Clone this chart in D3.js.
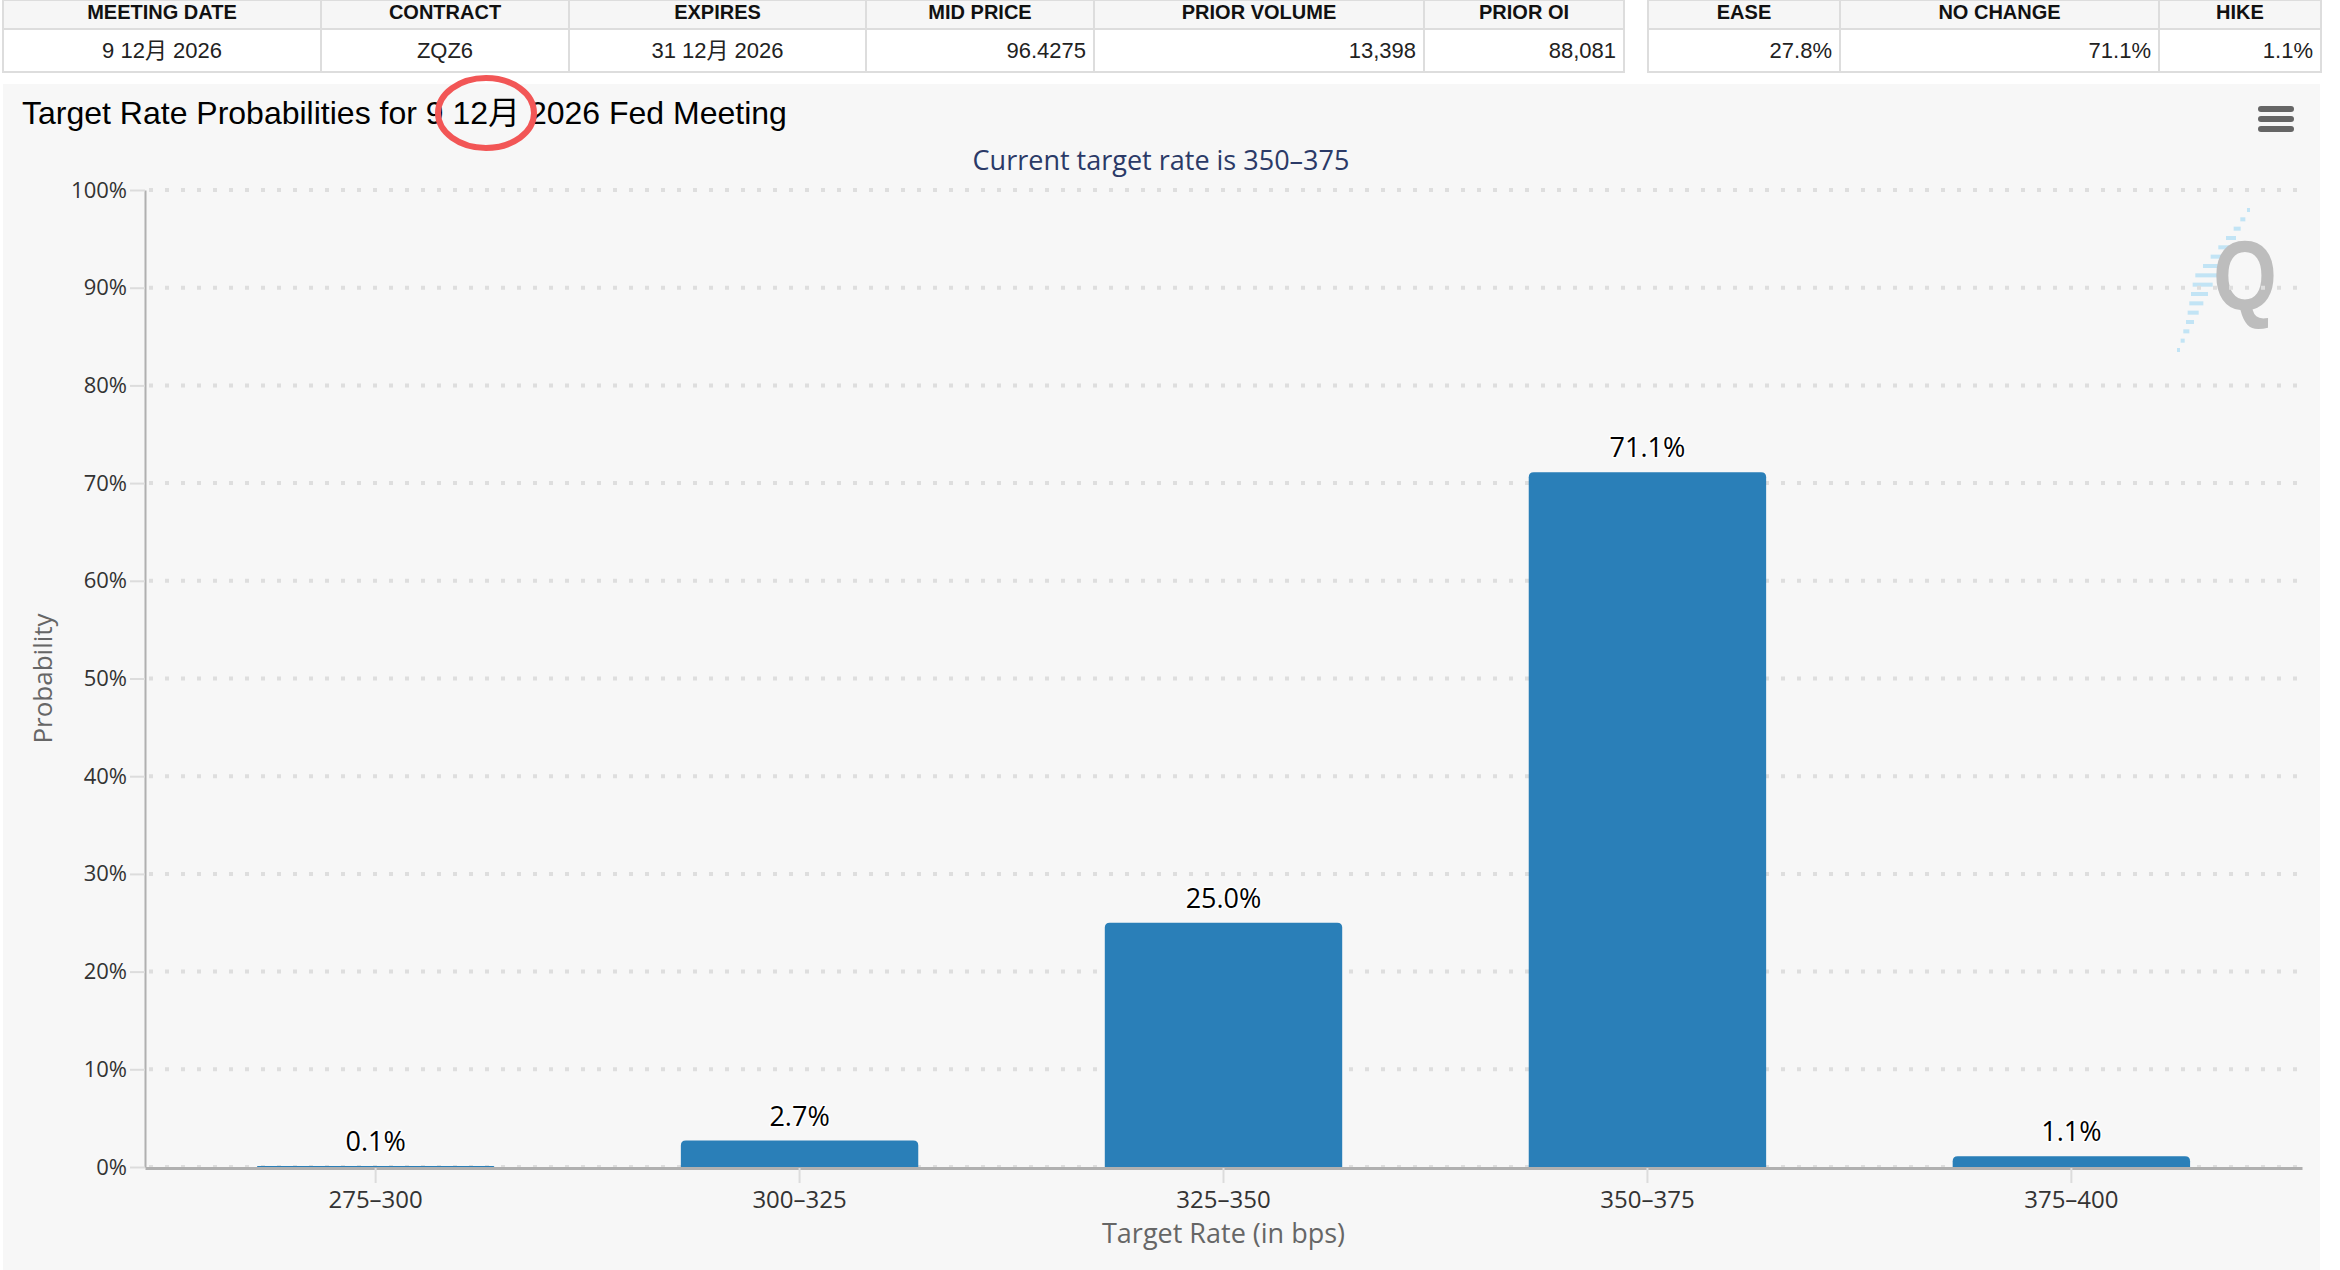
<!DOCTYPE html>
<html>
<head>
<meta charset="utf-8">
<script src="https://cdn.jsdelivr.net/npm/d3@7"></script>
<style>
  html, body { margin: 0; padding: 0; background: #ffffff; }
  svg { display: block; }
</style>
</head>
<body>
<svg id="chart" width="2340" height="1270"></svg>
<script>
// ---------------- data ----------------
const tableHeaders1 = ["MEETING DATE", "CONTRACT", "EXPIRES", "MID PRICE", "PRIOR VOLUME", "PRIOR OI"];
const tableValues1 = ["9 12月 2026", "ZQZ6", "31 12月 2026", "96.4275", "13,398", "88,081"];
const tableAlign1 = ["middle", "middle", "middle", "end", "end", "end"];
const tableHeaders2 = ["EASE", "NO CHANGE", "HIKE"];
const tableValues2 = ["27.8%", "71.1%", "1.1%"];
const tableAlign2 = ["end", "end", "end"];

const chartTitle = "Target Rate Probabilities for 9 12月 2026 Fed Meeting";
const chartSubtitle = "Current target rate is 350–375";
const xAxisTitle = "Target Rate (in bps)";
const yAxisTitle = "Probability";

const categories = ["275–300", "300–325", "325–350", "350–375", "375–400"];
const probabilities = [0.1, 2.7, 25.0, 71.1, 1.1];
const yTickValues = [0, 10, 20, 30, 40, 50, 60, 70, 80, 90, 100];

// ---------------- layout ----------------
const svg = d3.select("#chart");
const W = 2340, H = 1270;
const plot = { left: 145, right: 2302, top: 190, bottom: 1167 };
const sans = "'Liberation Sans', Arial, 'Noto Sans CJK SC', sans-serif";
const chartFont = "'Open Sans', 'Noto Sans', sans-serif";

// ---------------- tables ----------------
function drawTable(edges, headers, values, aligns) {
  const g = svg.append("g");
  const hdrTop = 0, hdrBot = 29, rowBot = 72;
  headers.forEach((h, i) => {
    const x0 = edges[i], x1 = edges[i + 1];
    g.append("rect").attr("x", x0).attr("y", hdrTop).attr("width", x1 - x0).attr("height", hdrBot - hdrTop)
      .attr("fill", "#f6f6f6").attr("stroke", "#dddddd").attr("stroke-width", 2);
    g.append("rect").attr("x", x0).attr("y", hdrBot).attr("width", x1 - x0).attr("height", rowBot - hdrBot)
      .attr("fill", "#ffffff").attr("stroke", "#dddddd").attr("stroke-width", 2);
    g.append("text").attr("x", (x0 + x1) / 2).attr("y", 18.5)
      .attr("text-anchor", "middle").attr("font-family", sans).attr("font-weight", "bold")
      .attr("font-size", 20).attr("fill", "#111").text(h);
    const a = aligns[i];
    const tx = a === "middle" ? (x0 + x1) / 2 : x1 - 8;
    g.append("text").attr("x", tx).attr("y", 58)
      .attr("text-anchor", a).attr("font-family", sans)
      .attr("font-size", 22).attr("fill", "#222").text(values[i]);
  });
}
drawTable([3, 321, 569, 866, 1094, 1424, 1624], tableHeaders1, tableValues1, tableAlign1);
drawTable([1648, 1840, 2159, 2321], tableHeaders2, tableValues2, tableAlign2);

// ---------------- chart panel ----------------
svg.append("rect").attr("x", 3).attr("y", 84).attr("width", 2317).attr("height", H - 84)
  .attr("fill", "#f7f7f7");

// title
svg.append("text").attr("x", 22).attr("y", 124)
  .attr("font-family", sans).attr("font-size", 32).attr("fill", "#000").text(chartTitle);

// subtitle
svg.append("text").attr("x", 1161).attr("y", 170).attr("text-anchor", "middle")
  .attr("font-family", chartFont).attr("font-size", 27).attr("fill", "#2b3a67").text(chartSubtitle);

// menu icon
const menu = svg.append("g");
[109, 119, 129].forEach(y => {
  menu.append("line").attr("x1", 2261).attr("x2", 2291).attr("y1", y).attr("y2", y)
    .attr("stroke", "#666").attr("stroke-width", 6).attr("stroke-linecap", "round");
});

// watermark
const wm = svg.append("g");
const dashLens = [3, 5, 7, 10, 13, 16, 19, 22, 20, 17, 14, 11, 8, 6, 4, 3];
dashLens.forEach((len, i) => {
  const t = i / (dashLens.length - 1);
  const x = 2250 - t * 70, y = 210 + t * 140;
  wm.append("line").attr("x1", x - len).attr("x2", x).attr("y1", y).attr("y2", y)
    .attr("stroke", "#b5e0f5").attr("stroke-width", 4).attr("opacity", 0.8);
});
wm.append("text").attr("x", 2245).attr("y", 310).attr("text-anchor", "middle")
  .attr("font-family", sans).attr("font-weight", "bold").attr("font-size", 98)
  .attr("fill", "#bdbdbd").attr("transform", "translate(2245,0) scale(0.84,1) translate(-2245,0)").text("Q");

// ---------------- scales ----------------
const x = d3.scaleBand().domain(categories).range([plot.left, plot.right])
  .paddingInner(0.44).paddingOuter(0.264);
const y = d3.scaleLinear().domain([0, 100]).range([plot.bottom, plot.top]);

// gridlines
svg.append("g").selectAll("line").data(yTickValues).join("line")
  .attr("x1", plot.left + 4).attr("x2", plot.right)
  .attr("y1", d => y(d)).attr("y2", d => y(d))
  .attr("stroke", "#dedede").attr("stroke-width", 4).attr("stroke-dasharray", "4,12");

// y axis
const yAxis = d3.axisLeft(y).tickValues(yTickValues).tickFormat(d => d + "%")
  .tickSizeInner(15).tickSizeOuter(0).tickPadding(3);
const gy = svg.append("g").attr("transform", `translate(${plot.left},0)`).call(yAxis);
gy.select(".domain").attr("stroke", "#b0b0b0").attr("stroke-width", 2);
gy.selectAll(".tick line").attr("stroke", "#dcdcdc").attr("stroke-width", 2);
gy.selectAll(".tick text").attr("font-family", chartFont).attr("font-size", 22).attr("fill", "#333");

// bars
const r = 5;
function barPath(x0, w, yTop, yBot) {
  const h = yBot - yTop;
  const rr = Math.min(r, h, w / 2);
  return `M${x0},${yBot} L${x0},${yTop + rr} Q${x0},${yTop} ${x0 + rr},${yTop} L${x0 + w - rr},${yTop} Q${x0 + w},${yTop} ${x0 + w},${yTop + rr} L${x0 + w},${yBot} Z`;
}
const data = categories.map((c, i) => ({ c, v: probabilities[i] }));
svg.append("g").selectAll("path").data(data).join("path")
  .attr("d", d => barPath(x(d.c), x.bandwidth(), y(d.v), y(0)))
  .attr("fill", "#2a7fb8");

// x axis
const xAxis = d3.axisBottom(x).tickSizeInner(15).tickSizeOuter(0).tickPadding(8);
const gx = svg.append("g").attr("transform", `translate(0,${plot.bottom + 1})`).call(xAxis);
gx.select(".domain").attr("stroke", "#b0b0b0").attr("stroke-width", 3);
gx.selectAll(".tick line").attr("stroke", "#dcdcdc").attr("stroke-width", 2);
gx.selectAll(".tick text").attr("font-family", chartFont).attr("font-size", 24).attr("fill", "#333");

// data labels
svg.append("g").selectAll("text").data(data).join("text")
  .attr("x", d => x(d.c) + x.bandwidth() / 2).attr("y", d => y(d.v) - 15)
  .attr("text-anchor", "middle").attr("font-family", chartFont).attr("font-size", 27)
  .attr("fill", "#000").attr("stroke", "#ffffff").attr("stroke-width", 3)
  .attr("paint-order", "stroke").attr("stroke-linejoin", "round")
  .text(d => d.v.toFixed(1) + "%");

// axis titles
svg.append("text").attr("transform", `translate(43,${(plot.top + plot.bottom) / 2}) rotate(-90)`)
  .attr("text-anchor", "middle").attr("dy", "0.35em").attr("font-family", chartFont)
  .attr("font-size", 26).attr("fill", "#666").text(yAxisTitle);
svg.append("text").attr("x", (plot.left + plot.right) / 2).attr("y", 1243)
  .attr("text-anchor", "middle").attr("font-family", chartFont)
  .attr("font-size", 27).attr("fill", "#666").text(xAxisTitle);

// annotation ellipse
svg.append("ellipse").attr("cx", 486).attr("cy", 113).attr("rx", 48).attr("ry", 35)
  .attr("fill", "none").attr("stroke", "#f25656").attr("stroke-width", 6);
</script>
</body>
</html>
